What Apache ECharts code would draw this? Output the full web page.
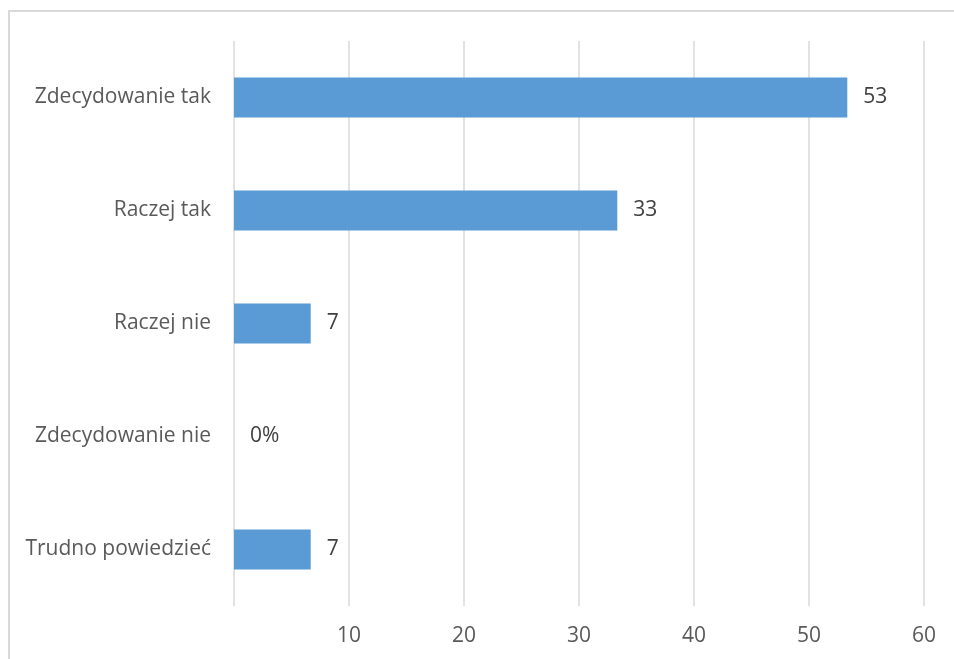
<!DOCTYPE html>
<html>
<head>
<meta charset="utf-8">
<script src="https://cdn.jsdelivr.net/npm/echarts@6/dist/echarts.min.js"></script>
<style>
html,body{margin:0;padding:0;background:#fff;}
#chart{width:954px;height:659px;}
</style>
</head>
<body>
<div id="chart"></div>
<script>
const categories = ["Zdecydowanie tak", "Raczej tak", "Raczej nie", "Zdecydowanie nie", "Trudno powiedzieć"];
const values = [53.33, 33.33, 6.67, 0, 6.67];
const valueLabels = ["53", "33", "7", "0%", "7"];
const xTicks = [0, 10, 20, 30, 40, 50, 60];

const chart = echarts.init(document.getElementById('chart'), null, {renderer: 'canvas'});
const font = '"Open Sans", "Noto Sans", sans-serif';
chart.setOption({
  animation: false,
  backgroundColor: '#ffffff',
  graphic: [{
    type: 'rect',
    shape: {x: 9, y: 11, width: 980, height: 700},
    style: {fill: 'none', stroke: '#d9d9d9', lineWidth: 2},
    silent: true
  }],
  grid: {left: 234, right: 30, top: 41, bottom: 53, containLabel: false},
  xAxis: {
    type: 'value',
    min: xTicks[0],
    max: xTicks[xTicks.length - 1],
    interval: 10,
    axisLine: {show: false},
    axisTick: {show: false},
    splitLine: {show: true, lineStyle: {color: '#d9d9d9', width: 1.5}},
    axisLabel: {
      showMinLabel: false,
      color: '#595959',
      fontFamily: font,
      fontSize: 21,
      margin: 20
    }
  },
  yAxis: {
    type: 'category',
    data: categories,
    inverse: true,
    axisLine: {show: false},
    axisTick: {show: false},
    axisLabel: {
      color: '#595959',
      fontFamily: font,
      fontSize: 21,
      margin: 23
    }
  },
  series: [{
    type: 'bar',
    data: values,
    barWidth: 40,
    itemStyle: {color: '#5b9bd5'},
    label: {
      show: true,
      position: 'right',
      distance: 16,
      color: '#404040',
      fontFamily: font,
      fontSize: 21,
      formatter: p => valueLabels[p.dataIndex]
    }
  }]
});
</script>
</body>
</html>
